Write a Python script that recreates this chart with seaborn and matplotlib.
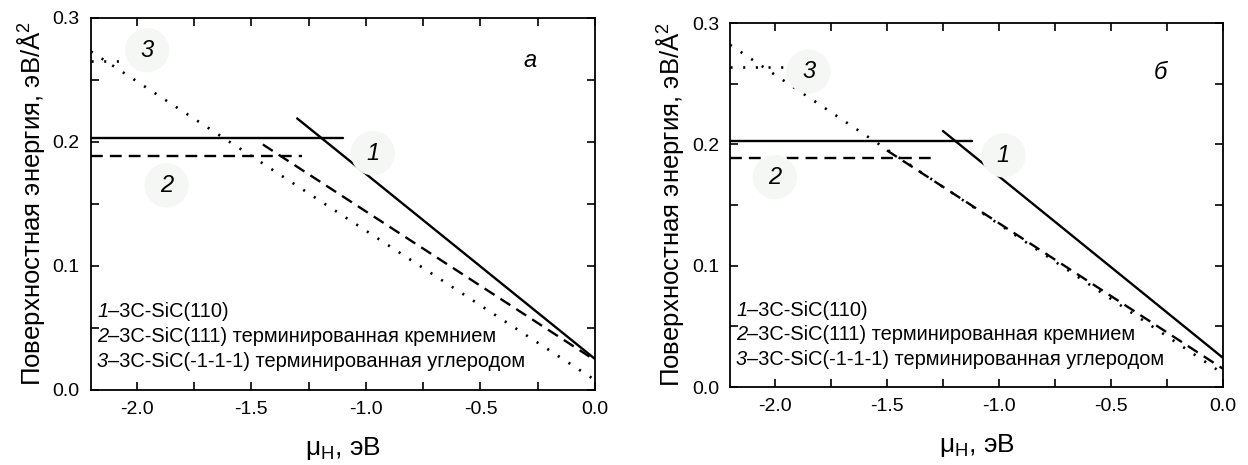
import numpy as np
import pandas as pd
import matplotlib
matplotlib.use('Agg')
import matplotlib.pyplot as plt
import seaborn as sns
from matplotlib.ticker import MultipleLocator

# panel "а"
a_h1_x = [-2.2, -1.10]; a_h1_y = [0.203, 0.203]
a_d1_x = [-1.30, 0.0];  a_d1_y = [0.219, 0.025]
a_h2_x = [-2.2, -1.28]; a_h2_y = [0.189, 0.189]
a_d2_x = [-1.45, 0.0];  a_d2_y = [0.198, 0.024]
a_h3_x = [-2.2, -2.05]; a_h3_y = [0.265, 0.265]
a_d3_x = [-2.2, 0.0];   a_d3_y = [0.273, 0.008]

# panel "б"
b_h1_x = [-2.2, -1.12]; b_h1_y = [0.203, 0.203]
b_d1_x = [-1.25, 0.0];  b_d1_y = [0.211, 0.024]
b_h2_x = [-2.2, -1.28]; b_h2_y = [0.189, 0.189]
b_d2_x = [-1.50, 0.0];  b_d2_y = [0.195, 0.015]
b_h3_x = [-2.2, -1.95]; b_h3_y = [0.264, 0.264]
b_d3_x = [-2.2, 0.0];   b_d3_y = [0.282, 0.011]

legend_lines = ['3C-SiC(110)',
                '3C-SiC(111) терминированная кремнием',
                '3C-SiC(-1-1-1) терминированная углеродом']

sns.set_style('white')
plt.rcParams['font.family'] = ['Liberation Sans', 'DejaVu Sans']
plt.rcParams['mathtext.fontset'] = 'custom'
plt.rcParams['mathtext.rm'] = 'Liberation Sans'
plt.rcParams['mathtext.it'] = 'Liberation Sans:italic'
plt.rcParams['xtick.direction'] = 'in'
plt.rcParams['ytick.direction'] = 'in'
plt.rcParams['text.color'] = 'black'
plt.rcParams['axes.labelcolor'] = 'black'
plt.rcParams['xtick.labelcolor'] = 'black'
plt.rcParams['ytick.labelcolor'] = 'black'

fig = plt.figure(figsize=(12.48, 4.65), dpi=100)
ax1 = fig.add_axes([0.0729, 0.1613, 0.4039, 0.8000])
ax2 = fig.add_axes([0.5850, 0.1677, 0.3950, 0.7828])

solid = dict(color='black', lw=1.7, linestyle='-')
dashed = dict(color='black', lw=1.7, linestyle=(0, (5, 3)))
dotted = dict(color='black', lw=1.9, linestyle=(0, (0.8, 4)))

blob = dict(boxstyle='circle,pad=0.45', fc='#f5f7f5', ec='none')


def draw(ax, segs, labels, letter):
    for (x, y, st) in segs:
        sns.lineplot(x=x, y=y, ax=ax, **st)
    for (x, y, t) in labels:
        ax.text(x, y, t, fontsize=17, style='italic', ha='center', va='center',
                bbox=blob)
    ax.text(letter[0], letter[1], letter[2], fontsize=17, style='italic',
            ha='center', va='center')
    ax.set_xlim(-2.2, 0.0)
    ax.set_ylim(0.0, 0.3)
    ax.xaxis.set_major_locator(MultipleLocator(0.5))
    ax.xaxis.set_minor_locator(MultipleLocator(0.25))
    ax.yaxis.set_major_locator(MultipleLocator(0.1))
    ax.yaxis.set_minor_locator(MultipleLocator(0.05))
    ax.set_xticks([-2.0, -1.5, -1.0, -0.5, 0.0])
    ax.set_xticklabels(['-2.0', '-1.5', '-1.0', '-0.5', '0.0'])
    ax.set_yticks([0.0, 0.1, 0.2, 0.3])
    ax.set_yticklabels(['0.0', '0.1', '0.2', '0.3'])
    ax.tick_params(which='both', top=True, right=True, bottom=True, left=True,
                   labelsize=14, width=1.2, color='black')
    ax.tick_params(which='major', length=6, pad=8)
    ax.tick_params(which='minor', length=6)
    for s in ax.spines.values():
        s.set_linewidth(1.3)
        s.set_color('black')
    ax.set_xlabel('μ$_\\mathrm{H}$, эВ', fontsize=19, labelpad=12)
    ax.set_ylabel('Поверхностная энергия, эВ/Å$^2$', fontsize=18.5, labelpad=4)
    for i, t in enumerate(legend_lines):
        d = ax.text(0.012, 0.21 - i * 0.067, f'{i+1}', style='italic',
                    transform=ax.transAxes, fontsize=14.4, ha='left', va='center')
        ax.annotate('–' + t, xy=(1, 0.5), xycoords=d, fontsize=14.4,
                    ha='left', va='center')


draw(ax1,
     [(a_h1_x, a_h1_y, solid), (a_d1_x, a_d1_y, solid),
      (a_h2_x, a_h2_y, dashed), (a_d2_x, a_d2_y, dashed),
      (a_h3_x, a_h3_y, dotted), (a_d3_x, a_d3_y, dotted)],
     [(-0.97, 0.191, '1'), (-1.87, 0.165, '2'), (-1.955, 0.274, '3')],
     (-0.283, 0.266, 'а'))

draw(ax2,
     [(b_h1_x, b_h1_y, solid), (b_d1_x, b_d1_y, solid),
      (b_h2_x, b_h2_y, dashed), (b_d2_x, b_d2_y, dashed),
      (b_h3_x, b_h3_y, dotted), (b_d3_x, b_d3_y, dotted)],
     [(-0.98, 0.191, '1'), (-2.0, 0.173, '2'), (-1.85, 0.26, '3')],
     (-0.28, 0.259, 'б'))

fig.savefig('out.png', dpi=100)
